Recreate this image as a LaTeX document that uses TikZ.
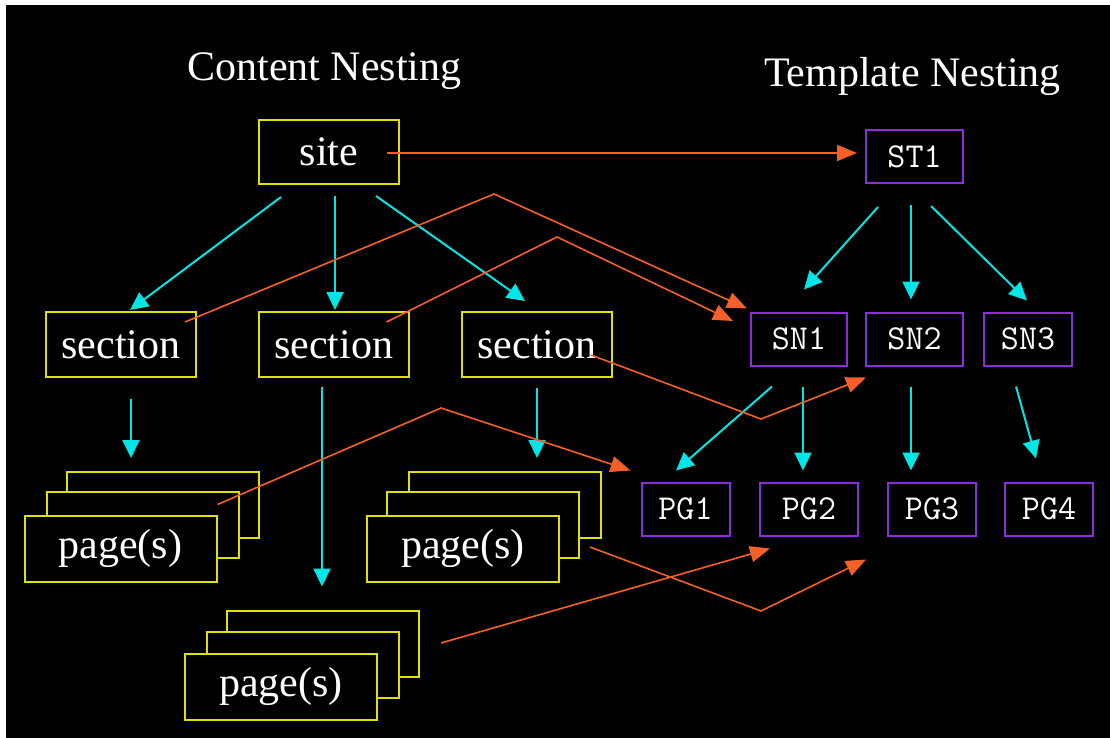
\documentclass[tikz,border=0pt]{standalone}
\usepackage{fontspec}
\setmainfont{Liberation Serif}
\usetikzlibrary{arrows.meta}
\definecolor{NestYellow}{RGB}{225,225,0}
\definecolor{NestPurple}{RGB}{140,45,220}
\definecolor{NestCyan}{RGB}{0,230,230}
\definecolor{NestOrange}{RGB}{245,95,40}
\tikzset{
  cbox/.style={draw=NestYellow,fill=black,line width=2pt,text=white,inner sep=0pt,
    font=\fontsize{42}{48}\selectfont},
  tbox/.style={draw=NestPurple,fill=black,line width=2pt,text=white,inner sep=0pt,
    minimum width=88pt,minimum height=53pt,font=\ttfamily\fontsize{35}{40}\selectfont},
  title/.style={text=white,anchor=base,font=\fontsize{42}{48}\selectfont},
}
\tikzset{sec/.style={cbox,minimum width=150pt,minimum height=65pt}, pagebox/.style={cbox,minimum width=192pt,minimum height=66pt},
  tree/.style={draw=NestCyan,line width=2pt,-{Triangle[length=18pt,width=17pt]}}, link/.style={draw=NestOrange,line width=1.6pt,-{Triangle[length=20pt,width=16pt]}}}

\begin{document}
\begin{tikzpicture}[x=1pt,y=-1pt]
\useasboundingbox (0,0) rectangle (1110,738);
\fill[white] (-10,-10) rectangle (1120,748);
\fill[black] (6,5) rectangle (1120,748);
\node[title] (ctitle) at (324.5,81) {Content Nesting};
\node[title] (ttitle) at (912.5,87) {Template Nesting};
% content side
\node[cbox,minimum width=140pt,minimum height=64pt] (site) at (329,152) {site};
\node[sec] (sec1) at (121,344.5) {section};
\node[sec] (sec2) at (333.5,344.5) {section};
\node[sec] (sec3) at (537,344.5) {section};
\node[pagebox] (p1c) at (163,505) {};
\node[pagebox] (p1b) at (143,525) {};
\node[pagebox] (p1) at (120.5,548.5) {page(s)};
\node[pagebox] (p2c) at (505,505) {};
\node[pagebox] (p2b) at (483,525) {};
\node[pagebox] (p2) at (463,548.5) {page(s)};
\node[pagebox] (p3c) at (323,643.5) {};
\node[pagebox] (p3b) at (303,665) {};
\node[pagebox] (p3) at (281,686.5) {page(s)};
% template side
\node[tbox,minimum width=97pt] (ST1) at (914.5,156.5) {ST1};
\node[tbox,minimum width=96pt] (SN1) at (799,339) {SN1};
\node[tbox,minimum width=97pt] (SN2) at (914.5,339) {SN2};
\node[tbox] (SN3) at (1028,339) {SN3};
\node[tbox] (PG1) at (685.5,509) {PG1};
\node[tbox,minimum width=98pt] (PG2) at (809,509) {PG2};
\node[tbox] (PG3) at (932,509) {PG3};
\node[tbox] (PG4) at (1049,509) {PG4};
% nesting
\draw[tree] ([shift={(-48,12)}]site.south) -- ([shift={(9,-1)}]sec1.north);
\draw[tree] ([shift={(6,11)}]site.south) -- ([shift={(1.5,-1)}]sec2.north);
\draw[tree] ([shift={(47,11)}]site.south) -- ([shift={(-12,-10)}]sec3.north);
\draw[tree] ([shift={(10,21)}]sec1.south) -- ([shift={(-32,-13)}]p1c.north);
\draw[tree] ([shift={(-11.5,9)}]sec2.south) -- ([shift={(-1,-23)}]p3c.north);
\draw[tree] ([shift={(0,10)}]sec3.south) -- ([shift={(32,-13)}]p2c.north);
\draw[tree] ([shift={(-36.5,23)}]ST1.south) -- ([shift={(5,-22)}]SN1.north);
\draw[tree] ([shift={(-3.5,21)}]ST1.south) -- ([shift={(-3.5,-12)}]SN2.north);
\draw[tree] ([shift={(16.5,22)}]ST1.south) -- ([shift={(-1,-11)}]SN3.north);
\draw[tree] ([shift={(-27,20)}]SN1.south) -- ([shift={(-9.5,-11)}]PG1.north);
\draw[tree] ([shift={(4,20)}]SN1.south) -- ([shift={(-6,-11)}]PG2.north);
\draw[tree] ([shift={(-3.5,20)}]SN2.south) -- ([shift={(-21,-11)}]PG3.north);
\draw[tree] ([shift={(-12,20)}]SN3.south) -- ([shift={(-13,-23)}]PG4.north);
% template links
\draw[link] ([shift={(58,1)}]site.center) -- ([shift={(-8,-3.5)}]ST1.west);
\draw[link] ([shift={(-12,11)}]sec1.north east) -- (494,194) -- ([shift={(-3,-3)}]SN1.north west);
\draw[link] ([shift={(-23,11)}]sec2.north east) -- (557,237) -- ([shift={(-17,-18)}]SN1.west);
\draw[link] ([shift={(-22,10.5)}]sec3.east) -- (761,419) -- ([shift={(1,11)}]SN2.south west);
\draw[link] ([shift={(0,-10)}]p1.north east) -- (441,408) -- ([shift={(-10,-11)}]PG1.north west);
\draw[link] ([shift={(30,-1.5)}]p2.east) -- (761,611) -- ([shift={(-21,23)}]PG3.south west);
\draw[link] ([shift={(21,-0.5)}]p3c.east) -- ([shift={(11,12)}]PG2.south west);
\end{tikzpicture}
\end{document}
